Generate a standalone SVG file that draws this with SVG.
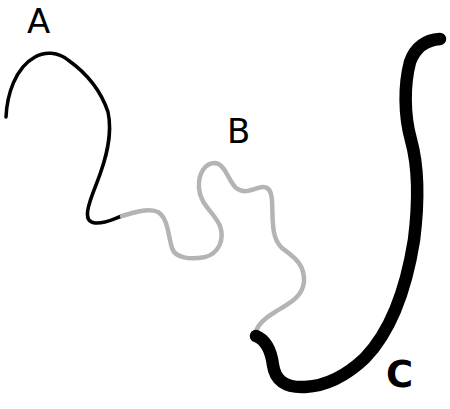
<svg xmlns="http://www.w3.org/2000/svg" width="450" height="409" viewBox="0 0 450 409">
<style>
.lbl{font-family:"DejaVu Sans",sans-serif;fill:#000}
.c{fill:none;stroke-linecap:round;stroke-linejoin:round}
</style>
<rect width="450" height="409" fill="#fff"/>
<g id="connectors">
<path id="curveA" class="c" stroke="#000" stroke-width="3.5" d="M6,117 C7,95 15,68 35,57 C45,51 58,52 68,60 C85,72 100,88 108,112 C113,135 106,160 96,185 C88,205 82,222 95,223 C105,224 113,219 122,216"/>
<path id="curveB" class="c" stroke="#b4b4b4" stroke-width="4.5" d="M122,216 C135,212 148,208 158,212 C168,218 168,235 172,248 C175,258 190,260 205,257 C218,254 225,240 220,226 C214,212 200,205 199,188 C198,172 206,163 215,163 C225,164 228,180 236,188 C244,194 252,190 258,188 C266,185 271,188 272,200 C273,220 271,238 282,248 C294,257 305,264 304,282 C302,298 288,304 275,312 C265,318 258,325 256,331"/>
<path id="curveC" class="c" stroke="#000" stroke-width="12.5" d="M256,336 C266,340 271,350 273,365 C275,380 285,388 305,387 C325,386 345,377 365,358 C390,332 406,290 414,240 C419,200 418,165 411,140 C404,115 404,85 410,62 C415,48 425,40 440,39"/>
</g>
<g id="labelA"><text class="lbl" x="27" y="33" font-size="34">A</text></g>
<g id="labelB"><text class="lbl" x="227" y="143" font-size="34">B</text></g>
<g id="labelC"><text class="lbl" x="386" y="387" font-size="37" font-weight="bold">C</text></g>
</svg>
